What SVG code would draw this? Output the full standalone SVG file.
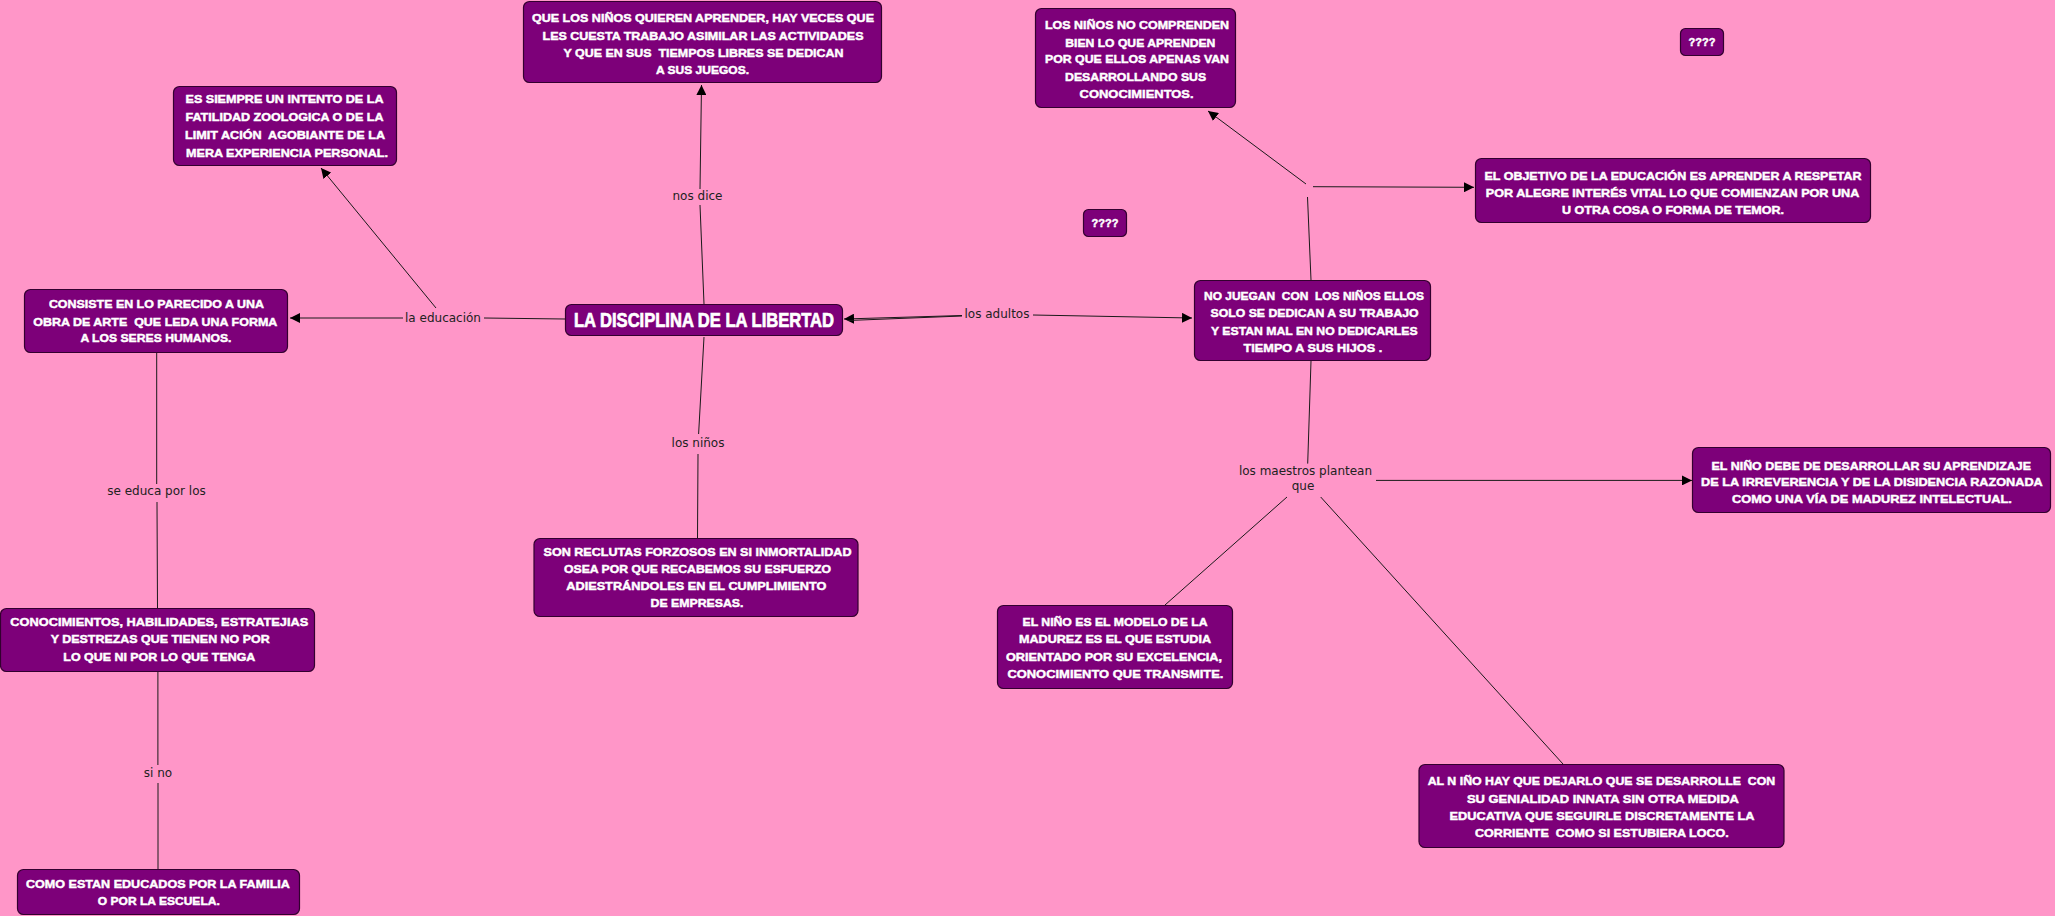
<svg xmlns="http://www.w3.org/2000/svg" width="2055" height="916" viewBox="0 0 2055 916">
<style>
.box{fill:#7D0079;stroke:#33002f;stroke-width:1.2}
.bt{font-family:"Liberation Sans",Arial,sans-serif;font-weight:bold;font-size:11.5px;fill:#fff;stroke:#fff;stroke-width:0.45;text-anchor:middle;white-space:pre}
.tt{font-family:"Liberation Sans",Arial,sans-serif;font-weight:bold;font-size:20px;fill:#fff;stroke:#fff;stroke-width:0.7;text-anchor:middle}
.lbl{font-family:"DejaVu Sans",Verdana,sans-serif;font-size:12px;fill:#222;text-anchor:middle}
.ln{stroke:#1a1a1a;stroke-width:1;fill:none}
.ar{stroke:#1a1a1a;stroke-width:1;fill:none;marker-end:url(#arr)}
</style>
<defs>
<marker id="arr" viewBox="0 0 10 10" refX="10" refY="5" markerWidth="10" markerHeight="10" markerUnits="userSpaceOnUse" orient="auto">
<path d="M0,0 L10,5 L0,10 z" fill="#000"/>
</marker>
</defs>
<rect width="2055" height="916" fill="#FF96C8"/>

<g id="connectors">
<path class="ln" d="M704,304 L700,205"/>
<path class="ar" d="M700,189 L701.5,85"/>
<path class="ln" d="M565,319 L484,318"/>
<path class="ar" d="M403,318 L290,318"/>
<path class="ar" d="M436,308 L321,168"/>
<path class="ar" d="M962,315.5 L844,319"/>
<path class="ln" d="M962,316 L848,320.5"/>
<path class="ar" d="M1033,315 L1192,318"/>
<path class="ln" d="M704,337 L698.6,434"/>
<path class="ln" d="M698,454 L697.5,538"/>
<path class="ln" d="M156.7,353 L156.7,484"/>
<path class="ln" d="M157,502 L157.5,609"/>
<path class="ln" d="M157.9,672 L157.9,765"/>
<path class="ln" d="M158,783 L158,870"/>
<path class="ln" d="M1311,280 L1307.5,197"/>
<path class="ar" d="M1306,184 L1208,111"/>
<path class="ar" d="M1313,186.7 L1474,187.3"/>
<path class="ln" d="M1311,361 L1307.7,463.6"/>
<path class="ar" d="M1376,480.4 L1692,480.4"/>
<path class="ln" d="M1287,497 L1165,605"/>
<path class="ln" d="M1320.7,497 L1563,764"/>
<text class="lbl" x="697.5" y="200">nos dice</text>
<text class="lbl" x="443" y="322">la educación</text>
<text class="lbl" x="997" y="318">los adultos</text>
<text class="lbl" x="698" y="447">los niños</text>
<text class="lbl" x="156.5" y="495">se educa por los</text>
<text class="lbl" x="158" y="777">si no</text>
<text class="lbl" x="1305.5" y="475">los maestros plantean</text>
<text class="lbl" x="1303" y="490">que</text>
</g>

<g id="n-title">
<rect class="box" x="565.5" y="304.5" width="277" height="31" rx="6"/>
<text class="tt" x="704" y="327" textLength="260" lengthAdjust="spacingAndGlyphs">LA DISCIPLINA DE LA LIBERTAD</text>
</g>

<g id="n-quieren">
<rect class="box" x="523.5" y="1.5" width="358" height="81" rx="6"/>
<text class="bt" x="703" y="22.3" textLength="342" lengthAdjust="spacingAndGlyphs">QUE LOS NIÑOS QUIEREN APRENDER, HAY VECES QUE</text>
<text class="bt" x="703" y="39.5" textLength="321" lengthAdjust="spacingAndGlyphs">LES CUESTA TRABAJO ASIMILAR LAS ACTIVIDADES</text>
<text class="bt" x="703.5" y="57" textLength="280" lengthAdjust="spacingAndGlyphs">Y QUE EN SUS  TIEMPOS LIBRES SE DEDICAN</text>
<text class="bt" x="702.5" y="74.3" textLength="93" lengthAdjust="spacingAndGlyphs">A SUS JUEGOS.</text>
</g>

<g id="n-siempre">
<rect class="box" x="173.5" y="86.5" width="223" height="79" rx="6"/>
<text class="bt" x="284.5" y="103.3" textLength="198" lengthAdjust="spacingAndGlyphs">ES SIEMPRE UN INTENTO DE LA</text>
<text class="bt" x="284.5" y="121.3" textLength="198" lengthAdjust="spacingAndGlyphs">FATILIDAD ZOOLOGICA O DE LA</text>
<text class="bt" x="285" y="139" textLength="200" lengthAdjust="spacingAndGlyphs">LIMIT ACIÓN  AGOBIANTE DE LA</text>
<text class="bt" x="287" y="157.3" textLength="202" lengthAdjust="spacingAndGlyphs">MERA EXPERIENCIA PERSONAL.</text>
</g>

<g id="n-consiste">
<rect class="box" x="24.5" y="289.5" width="263" height="63" rx="6"/>
<text class="bt" x="156.4" y="308" textLength="215" lengthAdjust="spacingAndGlyphs">CONSISTE EN LO PARECIDO A UNA</text>
<text class="bt" x="155.3" y="325.7" textLength="244" lengthAdjust="spacingAndGlyphs">OBRA DE ARTE  QUE LEDA UNA FORMA</text>
<text class="bt" x="155.9" y="342.3" textLength="151" lengthAdjust="spacingAndGlyphs">A LOS SERES HUMANOS.</text>
</g>

<g id="n-conocimientos">
<rect class="box" x="0.5" y="608.5" width="314" height="63" rx="6"/>
<text class="bt" x="159.3" y="626" textLength="298" lengthAdjust="spacingAndGlyphs">CONOCIMIENTOS, HABILIDADES, ESTRATEJIAS</text>
<text class="bt" x="160.2" y="643" textLength="219" lengthAdjust="spacingAndGlyphs">Y DESTREZAS QUE TIENEN NO POR</text>
<text class="bt" x="159.3" y="660.5" textLength="192" lengthAdjust="spacingAndGlyphs">LO QUE NI POR LO QUE TENGA</text>
</g>

<g id="n-como">
<rect class="box" x="17.5" y="869.5" width="282" height="45" rx="6"/>
<text class="bt" x="157.9" y="887.6" textLength="264" lengthAdjust="spacingAndGlyphs">COMO ESTAN EDUCADOS POR LA FAMILIA</text>
<text class="bt" x="158.8" y="904.7" textLength="122" lengthAdjust="spacingAndGlyphs">O POR LA ESCUELA.</text>
</g>

<g id="n-reclutas">
<rect class="box" x="534" y="538.5" width="324" height="78" rx="6"/>
<text class="bt" x="697.5" y="555.8" textLength="308" lengthAdjust="spacingAndGlyphs">SON RECLUTAS FORZOSOS EN SI INMORTALIDAD</text>
<text class="bt" x="697.5" y="573" textLength="267" lengthAdjust="spacingAndGlyphs">OSEA POR QUE RECABEMOS SU ESFUERZO</text>
<text class="bt" x="696.3" y="590.3" textLength="260" lengthAdjust="spacingAndGlyphs">ADIESTRÁNDOLES EN EL CUMPLIMIENTO</text>
<text class="bt" x="697" y="607.3" textLength="93" lengthAdjust="spacingAndGlyphs">DE EMPRESAS.</text>
</g>

<g id="n-comprenden">
<rect class="box" x="1035.5" y="8.5" width="200" height="99" rx="6"/>
<text class="bt" x="1137" y="29" textLength="184" lengthAdjust="spacingAndGlyphs">LOS NIÑOS NO COMPRENDEN</text>
<text class="bt" x="1140.3" y="46.7" textLength="150" lengthAdjust="spacingAndGlyphs">BIEN LO QUE APRENDEN</text>
<text class="bt" x="1137" y="63.3" textLength="184" lengthAdjust="spacingAndGlyphs">POR QUE ELLOS APENAS VAN</text>
<text class="bt" x="1135.6" y="80.7" textLength="141" lengthAdjust="spacingAndGlyphs">DESARROLLANDO SUS</text>
<text class="bt" x="1136.6" y="98.3" textLength="114" lengthAdjust="spacingAndGlyphs">CONOCIMIENTOS.</text>
</g>

<g id="n-q1">
<rect class="box" x="1680.5" y="28.5" width="43" height="27" rx="5"/>
<text class="bt" x="1702" y="46" textLength="27" lengthAdjust="spacingAndGlyphs">????</text>
</g>

<g id="n-q2">
<rect class="box" x="1083.5" y="209.5" width="43" height="27" rx="5"/>
<text class="bt" x="1105" y="227" textLength="27" lengthAdjust="spacingAndGlyphs">????</text>
</g>

<g id="n-objetivo">
<rect class="box" x="1475.5" y="158.5" width="395" height="64" rx="6"/>
<text class="bt" x="1673" y="179.7" textLength="377" lengthAdjust="spacingAndGlyphs">EL OBJETIVO DE LA EDUCACIÓN ES APRENDER A RESPETAR</text>
<text class="bt" x="1672.6" y="196.7" textLength="373.5" lengthAdjust="spacingAndGlyphs">POR ALEGRE INTERÉS VITAL LO QUE COMIENZAN POR UNA</text>
<text class="bt" x="1673" y="214" textLength="222" lengthAdjust="spacingAndGlyphs">U OTRA COSA O FORMA DE TEMOR.</text>
</g>

<g id="n-juegan">
<rect class="box" x="1194.5" y="280.5" width="236" height="80" rx="6"/>
<text class="bt" x="1314" y="300" textLength="220" lengthAdjust="spacingAndGlyphs">NO JUEGAN  CON  LOS NIÑOS ELLOS</text>
<text class="bt" x="1314.6" y="317.3" textLength="208" lengthAdjust="spacingAndGlyphs">SOLO SE DEDICAN A SU TRABAJO</text>
<text class="bt" x="1314.3" y="335" textLength="206.6" lengthAdjust="spacingAndGlyphs">Y ESTAN MAL EN NO DEDICARLES</text>
<text class="bt" x="1312.9" y="352.3" textLength="138.6" lengthAdjust="spacingAndGlyphs">TIEMPO A SUS HIJOS .</text>
</g>

<g id="n-debe">
<rect class="box" x="1692.5" y="447.5" width="358" height="65" rx="6"/>
<text class="bt" x="1871.3" y="469.5" textLength="319.5" lengthAdjust="spacingAndGlyphs">EL NIÑO DEBE DE DESARROLLAR SU APRENDIZAJE</text>
<text class="bt" x="1871.9" y="486" textLength="341.7" lengthAdjust="spacingAndGlyphs">DE LA IRREVERENCIA Y DE LA DISIDENCIA RAZONADA</text>
<text class="bt" x="1871.9" y="503.2" textLength="279.8" lengthAdjust="spacingAndGlyphs">COMO UNA VÍA DE MADUREZ INTELECTUAL.</text>
</g>

<g id="n-modelo">
<rect class="box" x="997.5" y="605.5" width="235" height="83" rx="6"/>
<text class="bt" x="1115" y="625.7" textLength="185" lengthAdjust="spacingAndGlyphs">EL NIÑO ES EL MODELO DE LA</text>
<text class="bt" x="1115" y="642.9" textLength="192" lengthAdjust="spacingAndGlyphs">MADUREZ ES EL QUE ESTUDIA</text>
<text class="bt" x="1114" y="660.9" textLength="216" lengthAdjust="spacingAndGlyphs">ORIENTADO POR SU EXCELENCIA,</text>
<text class="bt" x="1115.4" y="678" textLength="216" lengthAdjust="spacingAndGlyphs">CONOCIMIENTO QUE TRANSMITE.</text>
</g>

<g id="n-dejarlo">
<rect class="box" x="1419" y="764.5" width="365" height="83" rx="6"/>
<text class="bt" x="1601.5" y="785.2" textLength="347.6" lengthAdjust="spacingAndGlyphs">AL N IÑO HAY QUE DEJARLO QUE SE DESARROLLE  CON</text>
<text class="bt" x="1602.9" y="802.8" textLength="272" lengthAdjust="spacingAndGlyphs">SU GENIALIDAD INNATA SIN OTRA MEDIDA</text>
<text class="bt" x="1602" y="820" textLength="305" lengthAdjust="spacingAndGlyphs">EDUCATIVA QUE SEGUIRLE DISCRETAMENTE LA</text>
<text class="bt" x="1601.9" y="837.3" textLength="253.7" lengthAdjust="spacingAndGlyphs">CORRIENTE  COMO SI ESTUBIERA LOCO.</text>
</g>
</svg>
